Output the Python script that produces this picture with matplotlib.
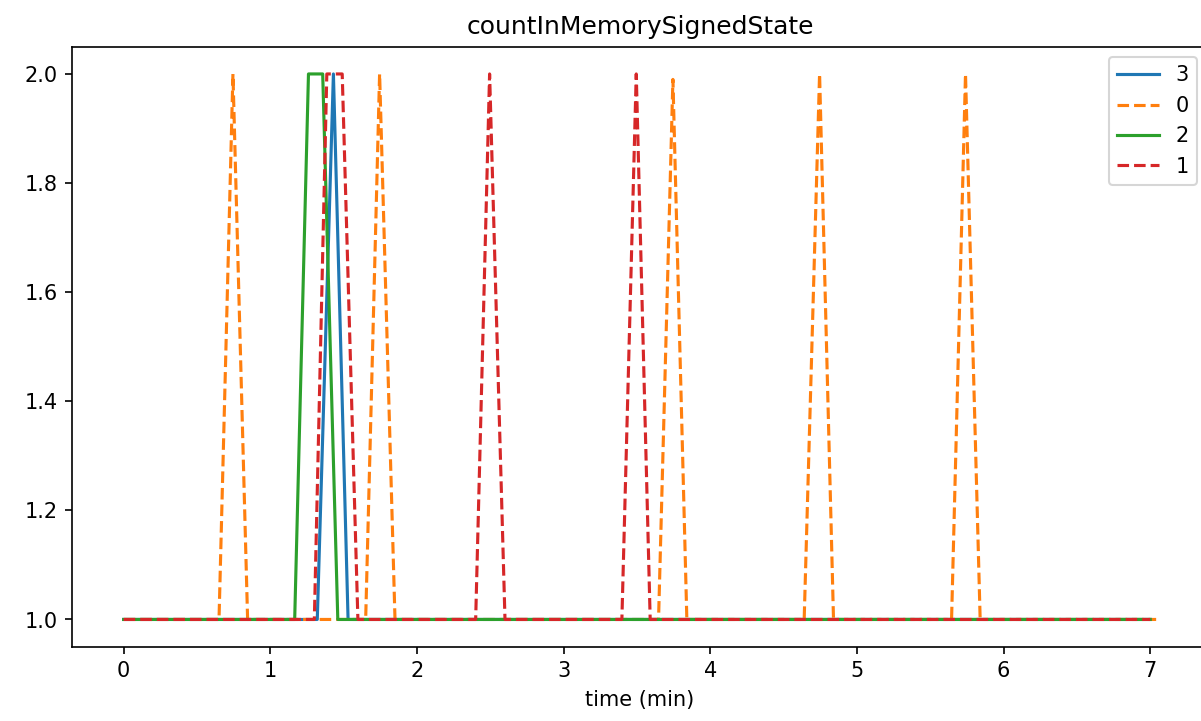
import numpy as np
import matplotlib
matplotlib.use("Agg")
import matplotlib.pyplot as plt

# series keyed by node id, (time in min, count)
t3 = [0.0, 1.32, 1.43, 1.53, 7.0]
v3 = [1, 1, 2, 1, 1]

t0 = [0.0, 0.65, 0.745, 0.845, 1.65, 1.745, 1.85, 3.647, 3.745, 3.84,
      4.64, 4.745, 4.84, 5.645, 5.74, 5.84, 7.04]
v0 = [1, 1, 2, 1, 1, 2, 1, 1, 1.99, 1, 1, 2, 1, 1, 2, 1, 1]

t2 = [0.0, 1.166, 1.26, 1.357, 1.46, 7.0]
v2 = [1, 1, 2, 2, 1, 1]

t1 = [0.0, 1.30, 1.385, 1.49, 1.597, 2.40, 2.495, 2.60, 3.397, 3.495, 3.59, 7.0]
v1 = [1, 1, 2, 2, 1, 1, 2, 1, 1, 2, 1, 1]

fig, ax = plt.subplots(figsize=(8.007, 4.807), dpi=150)
fig.subplots_adjust(left=0.06, right=1.0056, top=0.9352, bottom=0.103)

ax.plot(t3, v3, color="C0", label="3")
ax.plot(t0, v0, color="C1", ls="--", label="0")
ax.plot(t2, v2, color="C2", label="2")
ax.plot(t1, v1, color="C3", ls="--", label="1")

ax.set_title("countInMemorySignedState")
ax.set_xlabel("time (min)")
ax.legend(loc="upper right")

fig.savefig("out.png")
